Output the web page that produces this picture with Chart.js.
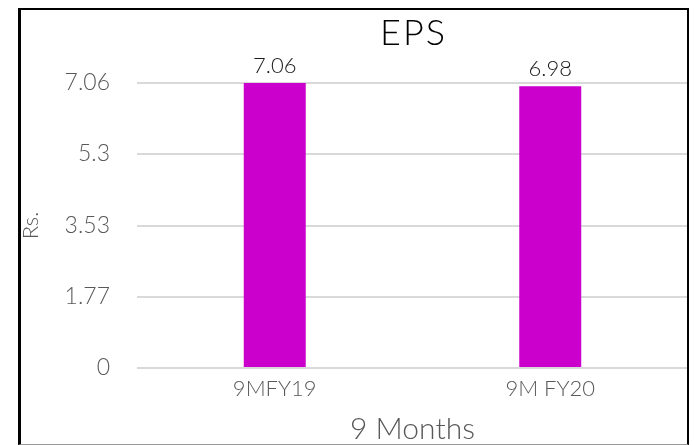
<!DOCTYPE html>
<html>
<head>
<meta charset="utf-8">
<script src="https://cdn.jsdelivr.net/npm/chart.js@4/dist/chart.umd.min.js"></script>
<style>
    body { margin: 0; background: #fff; }
    #wrap { position: relative; width: 694px; height: 445px; }
    #frame {
        position: absolute; left: 18px; top: 8px; width: 671px; height: 437px;
        box-sizing: border-box;
        border-left: 3px solid #000; border-top: 2px solid #000;
        border-right: 2px solid #000; border-bottom: 1px solid #999;
        pointer-events: none;
    }
</style>
</head>
<body>
<div id="wrap">
    <canvas id="epsChart"></canvas>
    <div id="frame"></div>
</div>
<script>
// chart data
const periods = ['9MFY19', '9M FY20'];
const epsValues = [7.06, 6.98];
const yTickValues = [0, 1.77, 3.53, 5.3, 7.06];

const fontFamily = "Lato, 'Open Sans', sans-serif";

// draws the value above each bar and the EPS title over the plot area
const labelPlugin = {
    id: 'labels',
    afterDatasetsDraw(chart) {
        const ctx = chart.ctx;
        const meta = chart.getDatasetMeta(0);
        ctx.save();
        ctx.fillStyle = '#1a1a1a';
        ctx.font = '300 22px ' + fontFamily;
        ctx.textAlign = 'center';
        ctx.textBaseline = 'bottom';
        meta.data.forEach(function(bar, i) {
            ctx.fillText(epsValues[i].toFixed(2), bar.x, bar.y - 6);
        });
        const area = chart.chartArea;
        ctx.fillStyle = '#000';
        ctx.font = '300 36px ' + fontFamily;
        ctx.textBaseline = 'alphabetic';
        if ('letterSpacing' in ctx) ctx.letterSpacing = '2px';
        ctx.fillText('EPS', (area.left + area.right) / 2 + 1, 45);
        ctx.restore();
    }
};

var ctx = document.getElementById('epsChart').getContext('2d');
var myChart = new Chart(ctx, {
    type: 'bar',
    data: {
        labels: periods,
        datasets: [{
            label: 'EPS',
            data: epsValues,
            backgroundColor: '#CC00CC',
            borderWidth: 0,
            categoryPercentage: 1,
            barPercentage: 0.225
        }]
    },
    options: {
        responsive: true,
        maintainAspectRatio: false,
        animation: false,
        layout: { padding: { left: 18, right: 6, top: 83, bottom: 0 } },
        plugins: {
            legend: { display: false },
            title: { display: false },
            tooltip: { enabled: false }
        },
        scales: {
            x: {
                grid: { display: false, drawTicks: false },
                border: { display: false },
                ticks: {
                    color: '#595959',
                    padding: 8,
                    font: { family: fontFamily, size: 22, weight: '300' }
                },
                title: {
                    display: true,
                    text: '9 Months',
                    color: '#595959',
                    padding: { top: 0, bottom: 1 },
                    font: { family: fontFamily, size: 30, weight: '300', lineHeight: 1 }
                },
                afterFit: function(scale) { scale.height = 77; }
            },
            y: {
                min: 0,
                max: 7.06,
                afterBuildTicks: function(scale) {
                    scale.ticks = yTickValues.map(v => ({ value: v }));
                },
                grid: { color: '#D9D9D9', lineWidth: 2, drawTicks: false },
                border: { display: false },
                ticks: {
                    color: '#595959',
                    padding: 27,
                    font: { family: fontFamily, size: 23, weight: '300' },
                    callback: function(value) { return String(value); }
                },
                title: {
                    display: true,
                    text: 'Rs.',
                    color: '#595959',
                    padding: 0,
                    font: { family: fontFamily, size: 22, weight: '300' }
                },
                afterFit: function(scale) { scale.width = 119; }
            }
        }
    },
    plugins: [labelPlugin]
});
</script>
</body>
</html>
